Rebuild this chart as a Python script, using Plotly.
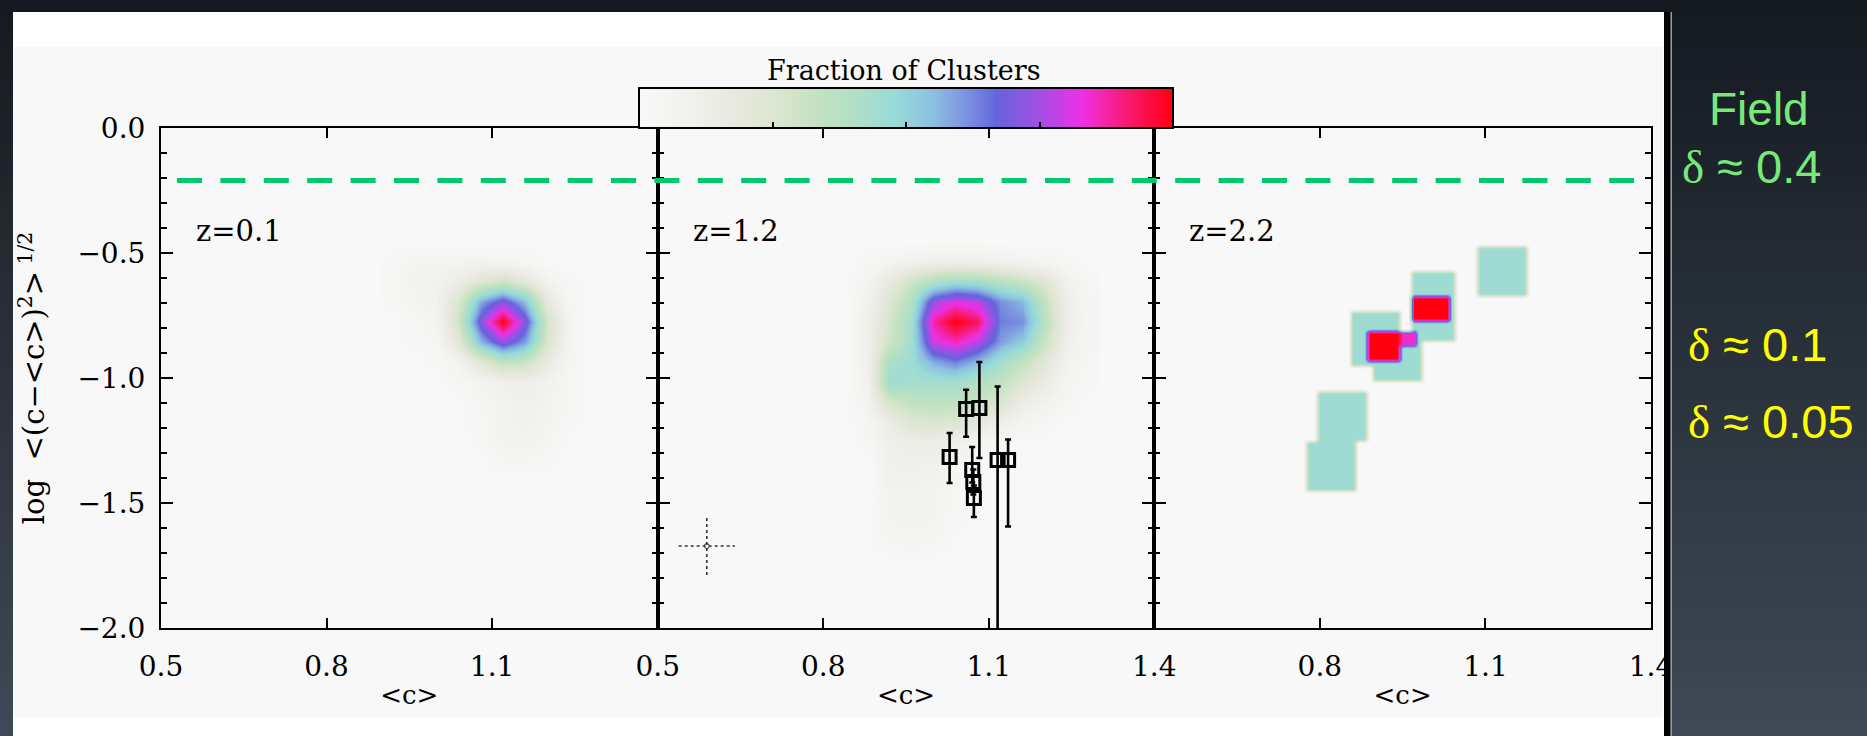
import numpy as np
import plotly.graph_objects as go

W, H = 1867, 736

def px(x):
    return x / W

def py(y):
    return 1 - y / H

# ---------------- z = 0.1 : fraction of clusters on a coarse grid ----------------
p1_c = [0.92, 0.96, 1.00, 1.04, 1.08, 1.12, 1.16, 1.20, 1.24, 1.28]
p1_logs = [-0.455, -0.535, -0.615, -0.695, -0.775, -0.855, -0.935,
           -1.015, -1.095, -1.175, -1.255, -1.335, -1.415]
p1_frac = [
    [0.00, 0.00, 0.00, 0.00, 0.00, 0.00, 0.00, 0.00, 0.00, 0.00],
    [0.02, 0.06, 0.07, 0.07, 0.07, 0.06, 0.03, 0.00, 0.00, 0.00],
    [0.03, 0.08, 0.09, 0.14, 0.24, 0.30, 0.22, 0.08, 0.02, 0.00],
    [0.02, 0.06, 0.08, 0.26, 0.58, 0.72, 0.55, 0.18, 0.04, 0.00],
    [0.00, 0.03, 0.06, 0.30, 0.72, 1.00, 0.72, 0.28, 0.06, 0.00],
    [0.00, 0.02, 0.04, 0.22, 0.56, 0.74, 0.60, 0.26, 0.06, 0.00],
    [0.00, 0.00, 0.02, 0.08, 0.22, 0.34, 0.32, 0.16, 0.05, 0.00],
    [0.00, 0.00, 0.00, 0.03, 0.07, 0.11, 0.12, 0.09, 0.03, 0.00],
    [0.00, 0.00, 0.00, 0.00, 0.04, 0.08, 0.10, 0.08, 0.03, 0.00],
    [0.00, 0.00, 0.00, 0.00, 0.03, 0.08, 0.09, 0.07, 0.02, 0.00],
    [0.00, 0.00, 0.00, 0.00, 0.02, 0.07, 0.08, 0.05, 0.00, 0.00],
    [0.00, 0.00, 0.00, 0.00, 0.00, 0.04, 0.04, 0.02, 0.00, 0.00],
    [0.00, 0.00, 0.00, 0.00, 0.00, 0.00, 0.00, 0.00, 0.00, 0.00],
]

# ---------------- z = 1.2 : fraction of clusters on a coarse grid ----------------
p2_c = [0.84, 0.88, 0.92, 0.96, 1.00, 1.04, 1.08, 1.12, 1.16, 1.20, 1.24, 1.28]
p2_logs = [-0.455, -0.535, -0.615, -0.695, -0.775, -0.855, -0.935, -1.015,
           -1.095, -1.175, -1.255, -1.335, -1.415, -1.495, -1.575, -1.655, -1.735]
p2_frac = [
    [0.00, 0.00, 0.00, 0.00, 0.00, 0.00, 0.00, 0.00, 0.00, 0.00, 0.00, 0.00],
    [0.00, 0.03, 0.06, 0.09, 0.11, 0.12, 0.11, 0.09, 0.07, 0.05, 0.02, 0.00],
    [0.00, 0.07, 0.18, 0.30, 0.40, 0.46, 0.44, 0.38, 0.32, 0.24, 0.09, 0.03],
    [0.00, 0.09, 0.24, 0.40, 0.74, 0.82, 0.78, 0.62, 0.56, 0.34, 0.12, 0.04],
    [0.00, 0.11, 0.28, 0.44, 0.88, 1.00, 0.93, 0.64, 0.62, 0.38, 0.13, 0.04],
    [0.00, 0.11, 0.30, 0.44, 0.80, 0.86, 0.78, 0.60, 0.52, 0.32, 0.11, 0.04],
    [0.00, 0.10, 0.42, 0.46, 0.58, 0.64, 0.56, 0.44, 0.34, 0.22, 0.08, 0.03],
    [0.00, 0.09, 0.46, 0.44, 0.44, 0.44, 0.40, 0.34, 0.24, 0.16, 0.06, 0.02],
    [0.00, 0.07, 0.28, 0.34, 0.36, 0.35, 0.32, 0.26, 0.14, 0.09, 0.04, 0.00],
    [0.00, 0.05, 0.15, 0.24, 0.26, 0.25, 0.20, 0.13, 0.07, 0.04, 0.00, 0.00],
    [0.00, 0.03, 0.11, 0.14, 0.14, 0.11, 0.07, 0.03, 0.00, 0.00, 0.00, 0.00],
    [0.00, 0.00, 0.10, 0.11, 0.10, 0.06, 0.02, 0.00, 0.00, 0.00, 0.00, 0.00],
    [0.00, 0.00, 0.09, 0.09, 0.08, 0.04, 0.00, 0.00, 0.00, 0.00, 0.00, 0.00],
    [0.00, 0.00, 0.07, 0.08, 0.07, 0.03, 0.00, 0.00, 0.00, 0.00, 0.00, 0.00],
    [0.00, 0.00, 0.06, 0.07, 0.06, 0.02, 0.00, 0.00, 0.00, 0.00, 0.00, 0.00],
    [0.00, 0.00, 0.05, 0.06, 0.05, 0.00, 0.00, 0.00, 0.00, 0.00, 0.00, 0.00],
    [0.00, 0.00, 0.00, 0.00, 0.00, 0.00, 0.00, 0.00, 0.00, 0.00, 0.00, 0.00],
]

# ---------------- z = 2.2 : few clusters, each occupying a block ----------------
p3_c_lo = [1.090, 0.964, 0.855, 0.895, 0.800, 0.780, 0.962, 0.888, 0.940]
p3_c_hi = [1.175, 1.045, 0.940, 0.980, 0.887, 0.867, 1.033, 0.942, 0.975]
p3_s_lo = [-0.660, -0.852, -0.940, -1.010, -1.248, -1.456, -0.776, -0.930, -0.862]
p3_s_hi = [-0.470, -0.580, -0.740, -0.820, -1.060, -1.260, -0.664, -0.818, -0.815]
p3_frac = [0.46, 0.46, 0.46, 0.46, 0.46, 0.46, 1.00, 1.00, 0.85]

# ---------------- z = 1.2 : observed clusters with error bars ----------------
obs_c = [1.059, 1.083, 1.029, 1.070, 1.072, 1.073, 1.116, 1.135]
obs_logs = [-1.124, -1.120, -1.316, -1.368, -1.416, -1.480, -1.328, -1.328]
obs_err_up = [0.077, 0.184, 0.096, 0.092, 0.050, 0.050, 0.294, 0.082]
obs_err_dn = [0.111, 0.200, 0.104, 0.050, 0.050, 0.076, 1.000, 0.266]

# typical uncertainty shown as a dotted cross
typ_c, typ_logs = 0.589, -1.672
typ_dc, typ_dlogs = 0.051, 0.116

# field reference level
field_logs = -0.21

panel_labels = ["z=0.1", "z=1.2", "z=2.2"]
xtick_vals = [[0.5, 0.8, 1.1], [0.5, 0.8, 1.1, 1.4], [0.8, 1.1, 1.4]]
ytick_vals = [0.0, -0.5, -1.0, -1.5, -2.0]
ytick_text = ["0.0", "\u22120.5", "\u22121.0", "\u22121.5", "\u22122.0"]
cbar_ticks = [0.25, 0.5, 0.75]

colorscale = [
    [0.00, "#f8f8f8"], [0.07, "#f3f3f0"], [0.15, "#ecebe4"], [0.25, "#dde6d2"],
    [0.34, "#c2e2c0"], [0.41, "#aedfc8"], [0.48, "#98dbd8"], [0.55, "#8cc0e0"],
    [0.62, "#7a8ee0"], [0.67, "#6464dc"], [0.74, "#9a52e4"], [0.83, "#ee30e4"],
    [0.92, "#f8186a"], [1.00, "#ff0010"],
]

SERIF = "DejaVu Serif"

fig = go.Figure()

fig.add_trace(go.Heatmap(x=p1_c, y=p1_logs, z=p1_frac, zsmooth="best",
                         coloraxis="coloraxis", xaxis="x", yaxis="y", hoverinfo="skip"))
fig.add_trace(go.Heatmap(x=p2_c, y=p2_logs, z=p2_frac, zsmooth="best",
                         coloraxis="coloraxis", xaxis="x2", yaxis="y2", hoverinfo="skip"))

# rasterise the z = 2.2 blocks onto a fine grid
g3_c = np.round(np.arange(0.70, 1.2601, 0.01), 3)
g3_s = np.round(np.arange(-0.36, -1.5601, -0.02), 3)
g3_z = np.zeros((len(g3_s), len(g3_c)))
for c0, c1, s0, s1, f in zip(p3_c_lo, p3_c_hi, p3_s_lo, p3_s_hi, p3_frac):
    inside = ((g3_c[None, :] >= c0) & (g3_c[None, :] <= c1)
              & (g3_s[:, None] >= s0) & (g3_s[:, None] <= s1))
    g3_z = np.where(inside, np.maximum(g3_z, f), g3_z)
fig.add_trace(go.Heatmap(x=g3_c, y=g3_s, z=g3_z, zsmooth="best",
                         coloraxis="coloraxis", xaxis="x3", yaxis="y3", hoverinfo="skip"))

# observed clusters
fig.add_trace(go.Scatter(
    x=obs_c, y=obs_logs, mode="markers", xaxis="x2", yaxis="y2",
    marker=dict(symbol="square-open", size=13, color="black", line=dict(width=3)),
    error_y=dict(type="data", symmetric=False, array=obs_err_up, arrayminus=obs_err_dn,
                 color="black", thickness=2.6, width=3),
    hoverinfo="skip", showlegend=False))

# typical error cross
fig.add_trace(go.Scatter(
    x=[typ_c - typ_dc, typ_c + typ_dc, None, typ_c, typ_c],
    y=[typ_logs, typ_logs, None, typ_logs - typ_dlogs, typ_logs + typ_dlogs],
    mode="lines", xaxis="x2", yaxis="y2",
    line=dict(color="#333333", width=1.6, dash="dot"),
    hoverinfo="skip", showlegend=False))
fig.add_trace(go.Scatter(
    x=[typ_c], y=[typ_logs], mode="markers", xaxis="x2", yaxis="y2",
    marker=dict(symbol="circle-open", size=5, color="#333333", line=dict(width=1)),
    hoverinfo="skip", showlegend=False))

# ---------------- axes ----------------
x_edges = [161, 657.7, 1154.3, 1651]
y_dom = [py(628), py(128)]
axis_common = dict(showline=True, linecolor="black", linewidth=2, mirror="ticks",
                   ticks="inside", tickcolor="black", tickwidth=2,
                   showgrid=False, zeroline=False, automargin=False,
                   tickfont=dict(family=SERIF, size=28, color="black"))

layout_axes = {}
for i in range(3):
    sfx = "" if i == 0 else str(i + 1)
    layout_axes["xaxis" + sfx] = dict(
        axis_common, domain=[px(x_edges[i]), px(x_edges[i + 1])], range=[0.5, 1.4],
        anchor="y" + sfx, tickvals=xtick_vals[i],
        ticktext=["%.1f" % v for v in xtick_vals[i]], ticklen=10,
        ticklabelstandoff=12,
        title=dict(text="&lt;c&gt;", font=dict(family=SERIF, size=26, color="black"),
                   standoff=4))
    layout_axes["yaxis" + sfx] = dict(
        axis_common, domain=y_dom, range=[-2.0, 0.0], anchor="x" + sfx,
        tickvals=ytick_vals, ticktext=ytick_text, ticklen=12,
        showticklabels=(i == 0), ticklabelstandoff=8,
        minor=dict(dtick=0.1, tick0=0, ticks="inside", ticklen=6,
                   tickwidth=1.5, tickcolor="black"))
layout_axes["yaxis"]["title"] = dict(
    text="log\u00a0 &lt;(c\u2212&lt;c&gt;)<sup>2</sup>&gt;<sup>\u00a01/2</sup>",
    font=dict(family=SERIF, size=29, color="black"), standoff=24)

# ---------------- background pieces ----------------
shapes = []
top_rgb = np.array([21, 26, 33])
bot_rgb = np.array([63, 74, 86])
nb = 46
for k in range(nb):
    t = (k + 0.5) / nb
    r, g, b = (top_rgb + (bot_rgb - top_rgb) * t).astype(int)
    shapes.append(dict(type="rect", xref="paper", yref="paper", layer="below",
                       x0=0, x1=1, y0=py(k * H / nb + H / nb + 0.5), y1=py(k * H / nb),
                       fillcolor="rgb(%d,%d,%d)" % (r, g, b), line_width=0))
shapes.append(dict(type="rect", xref="paper", yref="paper", layer="below",
                   x0=px(13), x1=px(1664), y0=py(H), y1=py(12),
                   fillcolor="white", line_width=0))
shapes.append(dict(type="rect", xref="paper", yref="paper", layer="below",
                   x0=px(13), x1=px(1663), y0=py(717), y1=py(47),
                   fillcolor="#f8f8f8", line_width=0))
shapes.append(dict(type="rect", xref="paper", yref="paper", layer="above",
                   x0=px(1664), x1=px(1670.5), y0=py(H), y1=py(12),
                   fillcolor="black", line_width=0))
shapes.append(dict(type="rect", xref="paper", yref="paper", layer="above",
                   x0=px(1670.5), x1=px(1672), y0=py(H), y1=py(12),
                   fillcolor="#9a9a9a", line_width=0))
# field level across all panels
shapes.append(dict(type="line", xref="paper", yref="y", layer="above",
                   x0=px(177), x1=px(1634), y0=field_logs, y1=field_logs,
                   line=dict(color="#00c86c", width=5, dash="25px,18.4px")))

# ---------------- annotations ----------------
annotations = []
for i, lab in enumerate(panel_labels):
    sfx = "" if i == 0 else str(i + 1)
    annotations.append(dict(text=lab, xref="x" + sfx, yref="y" + sfx, x=0.56, y=-0.41,
                            xanchor="left", yanchor="middle", showarrow=False,
                            font=dict(family=SERIF, size=29, color="black")))

# colour bar heading
annotations.append(dict(text="Fraction of Clusters", xref="paper", yref="paper",
                        x=px(904), y=py(70), xanchor="center", yanchor="middle",
                        showarrow=False,
                        font=dict(family=SERIF, size=27, color="black")))

delta = '<span style="font-family:\'Liberation Serif\'">\u03b4</span>'
side_font = "Liberation Sans"
annotations += [
    dict(text="Field", xref="paper", yref="paper", x=px(1759), y=py(109),
         xanchor="center", yanchor="middle", showarrow=False,
         font=dict(family=side_font, size=46, color="#78e878")),
    dict(text=delta + " \u2248 0.4", xref="paper", yref="paper", x=px(1680), y=py(166),
         xanchor="left", yanchor="middle", showarrow=False,
         font=dict(family=side_font, size=47, color="#78e878")),
    dict(text=delta + " \u2248 0.1", xref="paper", yref="paper", x=px(1686), y=py(344),
         xanchor="left", yanchor="middle", showarrow=False,
         font=dict(family=side_font, size=47, color="#ffff00")),
    dict(text=delta + " \u2248 0.05", xref="paper", yref="paper", x=px(1686), y=py(421),
         xanchor="left", yanchor="middle", showarrow=False,
         font=dict(family=side_font, size=47, color="#ffff00")),
]

fig.update_layout(
    width=W, height=H, margin=dict(l=0, r=0, t=0, b=0, autoexpand=False),
    paper_bgcolor="rgb(21,26,33)", plot_bgcolor="rgba(0,0,0,0)",
    showlegend=False, shapes=shapes, annotations=annotations,
    coloraxis=dict(
        colorscale=colorscale, cmin=0, cmax=1,
        colorbar=dict(
            orientation="h", x=px(906), xanchor="center", y=py(137), yanchor="bottom",
            len=534, lenmode="pixels", thickness=40, thicknessmode="pixels",
            xpad=0, ypad=0, outlinewidth=2, outlinecolor="black",
            tickvals=cbar_ticks, ticktext=["", "", ""], ticks="inside", ticklen=7,
            tickwidth=2, tickcolor="black", showticklabels=True,
            ticklabelposition="outside top",
            tickfont=dict(size=2, color="rgba(0,0,0,0)"),
        ),
    ),
    **layout_axes,
)

fig.write_html("out.html")
